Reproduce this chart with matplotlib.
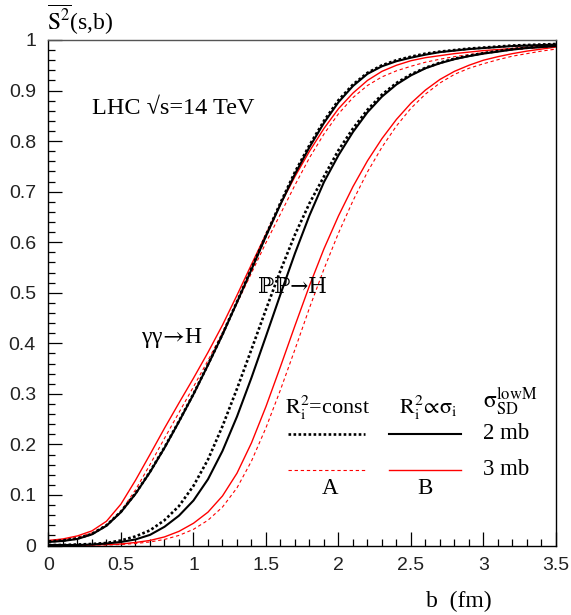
import numpy as np
import matplotlib
matplotlib.use("Agg")
import matplotlib.pyplot as plt

plt.rcParams['mathtext.fontset'] = 'stix'
serif = ['Liberation Serif', 'DejaVu Serif', 'DejaVu Sans']

# impact parameter grid (fm)
b = [0.0, 0.1, 0.2, 0.3, 0.4, 0.5, 0.6, 0.7, 0.8, 0.9,
     1.0, 1.1, 1.2, 1.3, 1.4, 1.5, 1.6, 1.7, 1.8, 1.9,
     2.0, 2.1, 2.2, 2.3, 2.4, 2.5, 2.6, 2.7, 2.8, 2.9,
     3.0, 3.1, 3.2, 3.3, 3.4, 3.5]

# gamma gamma -> H   (A: R_i^2 = const, B: R_i^2 ~ sigma_i; 2 mb / 3 mb)
gg_A_2mb = [0.008, 0.010, 0.014, 0.023, 0.040, 0.067, 0.103, 0.146, 0.194, 0.246,
            0.300, 0.358, 0.418, 0.482, 0.548, 0.614, 0.678, 0.739, 0.792, 0.840,
            0.881, 0.912, 0.935, 0.950, 0.960, 0.967, 0.973, 0.977, 0.980, 0.983,
            0.985, 0.987, 0.989, 0.990, 0.991, 0.992]
gg_B_2mb = [0.007, 0.009, 0.013, 0.022, 0.039, 0.066, 0.102, 0.145, 0.193, 0.245,
            0.299, 0.357, 0.417, 0.481, 0.546, 0.612, 0.675, 0.735, 0.788, 0.836,
            0.877, 0.909, 0.933, 0.948, 0.958, 0.965, 0.971, 0.976, 0.979, 0.982,
            0.984, 0.986, 0.988, 0.989, 0.990, 0.991]
gg_A_3mb = [0.009, 0.011, 0.016, 0.025, 0.040, 0.068, 0.110, 0.160, 0.212, 0.263,
            0.314, 0.366, 0.421, 0.479, 0.539, 0.599, 0.656, 0.713, 0.767, 0.814,
            0.854, 0.886, 0.910, 0.927, 0.939, 0.948, 0.956, 0.962, 0.967, 0.971,
            0.975, 0.978, 0.981, 0.983, 0.985, 0.987]
gg_B_3mb = [0.010, 0.013, 0.019, 0.029, 0.048, 0.082, 0.129, 0.180, 0.232, 0.282,
            0.331, 0.382, 0.436, 0.495, 0.556, 0.616, 0.675, 0.730, 0.780, 0.825,
            0.864, 0.895, 0.920, 0.938, 0.950, 0.959, 0.965, 0.969, 0.973, 0.976,
            0.979, 0.981, 0.983, 0.985, 0.987, 0.989]

# PP -> H
pp_A_2mb = [0.001, 0.001, 0.002, 0.003, 0.005, 0.010, 0.018, 0.030, 0.050, 0.078,
            0.118, 0.170, 0.236, 0.310, 0.388, 0.467, 0.544, 0.615, 0.677, 0.730,
            0.782, 0.825, 0.862, 0.892, 0.915, 0.932, 0.945, 0.955, 0.963, 0.969,
            0.974, 0.978, 0.982, 0.985, 0.987, 0.989]
pp_B_2mb = [0.001, 0.001, 0.001, 0.002, 0.004, 0.007, 0.012, 0.021, 0.037, 0.059,
            0.089, 0.131, 0.187, 0.255, 0.332, 0.414, 0.497, 0.578, 0.653, 0.719,
            0.772, 0.818, 0.857, 0.888, 0.912, 0.930, 0.944, 0.954, 0.962, 0.968,
            0.973, 0.977, 0.981, 0.984, 0.986, 0.988]
pp_A_3mb = [0.000, 0.000, 0.000, 0.001, 0.001, 0.002, 0.004, 0.007, 0.012, 0.020,
            0.032, 0.050, 0.076, 0.114, 0.167, 0.233, 0.308, 0.388, 0.470, 0.547,
            0.618, 0.682, 0.739, 0.788, 0.830, 0.865, 0.893, 0.915, 0.932, 0.944,
            0.953, 0.961, 0.968, 0.973, 0.978, 0.982]
pp_B_3mb = [0.000, 0.000, 0.001, 0.001, 0.002, 0.003, 0.006, 0.010, 0.017, 0.028,
            0.044, 0.066, 0.098, 0.143, 0.203, 0.275, 0.354, 0.435, 0.514, 0.587,
            0.652, 0.710, 0.761, 0.805, 0.843, 0.875, 0.901, 0.922, 0.938, 0.950,
            0.960, 0.967, 0.973, 0.978, 0.982, 0.986]

fig = plt.figure(figsize=(5.71, 6.15), dpi=100)
ax = fig.add_axes([0.0849, 0.113, 0.8888, 0.822])

dot = dict(color='black', lw=1.9, ls=(0, (1.0, 0.9)))
solid = dict(color='black', lw=1.5, ls='-')
rdash = dict(color='red', lw=0.8, ls=(0, (3.0, 2.5)))
rsolid = dict(color='red', lw=1.0, ls='-')

for A2, B2, A3, B3 in [(gg_A_2mb, gg_B_2mb, gg_A_3mb, gg_B_3mb),
                       (pp_A_2mb, pp_B_2mb, pp_A_3mb, pp_B_3mb)]:
    ax.plot(b, A3, **rdash)
    ax.plot(b, B3, **rsolid)
    ax.plot(b, B2, **solid)
    ax.plot(b, A2, **dot)

ax.set_xlim(0, 3.5)
ax.set_ylim(0, 1)
ax.set_xticks(np.arange(0, 3.51, 0.5))
ax.set_xticks(np.arange(0, 3.51, 0.1), minor=True)
ax.set_yticks(np.arange(0, 1.01, 0.1))
ax.set_yticks(np.arange(0, 1.001, 0.02), minor=True)
ax.set_xticklabels(['0', '0.5', '1', '1.5', '2', '2.5', '3', '3.5'])
ax.set_yticklabels(['0', '0.1', '0.2', '0.3', '0.4', '0.5', '0.6', '0.7', '0.8', '0.9', '1'])
ax.tick_params(which='both', direction='in', top=False, right=False,
               labelsize=14, labelcolor='#222222', width=0.9)
ax.tick_params(which='major', length=10)
ax.tick_params(axis='x', which='major', pad=8)
ax.tick_params(axis='y', which='major', pad=9)
ax.tick_params(which='minor', length=5)
for lab in ax.get_xticklabels() + ax.get_yticklabels():
    lab.set_family('Liberation Sans')
for sp in ax.spines.values():
    sp.set_linewidth(1.0)
ax.spines['top'].set_color('#555555')

# axis titles
fig.text(0.083, 0.951, r'$\overline{\mathrm{S}^{2}}$(s,b)', family=serif,
         fontsize=17, ha='left', va='baseline')
fig.text(0.804, 0.013, 'b  (fm)', family=serif, fontsize=17, ha='center', va='baseline')

ax.text(0.30, 0.864, 'LHC \u221as=14 TeV', family=serif, fontsize=17.5, ha='left', va='center')
ax.text(0.855, 0.411, '\u03b3\u03b3$\\!\\rightarrow\\!$H', family=serif, fontsize=17,
        ha='center', va='center')
ax.text(1.68, 0.512, '\u2119\u2119\u2192H', family=['DejaVu Serif'], fontsize=15.5,
        ha='center', va='center')

# legend drawn by hand
ax.text(1.924, 0.272, r'$\mathrm{R_i^2}$=const', family=serif, fontsize=16, ha='center', va='center')
ax.text(2.62, 0.272, r'$\mathrm{R_i^2\!\propto\!\sigma_i}$', fontsize=16, ha='center', va='center')
ax.text(2.996, 0.285, r'$\mathrm{\sigma_{SD}^{lowM}}$', fontsize=17, ha='left', va='center')
ax.plot([1.654, 2.183], [0.221, 0.221], **dot)
ax.plot([2.348, 2.845], [0.221, 0.221], **solid)
ax.plot([1.654, 2.183], [0.150, 0.150], **rdash)
ax.plot([2.348, 2.845], [0.150, 0.150], **rsolid)
ax.text(2.996, 0.221, '2 mb', family=serif, fontsize=16.5, ha='left', va='center')
ax.text(2.996, 0.150, '3 mb', family=serif, fontsize=16.5, ha='left', va='center')
ax.text(1.94, 0.113, 'A', family=serif, fontsize=16.5, ha='center', va='center')
ax.text(2.597, 0.113, 'B', family=serif, fontsize=16.5, ha='center', va='center')

fig.savefig('out.png', dpi=100)
